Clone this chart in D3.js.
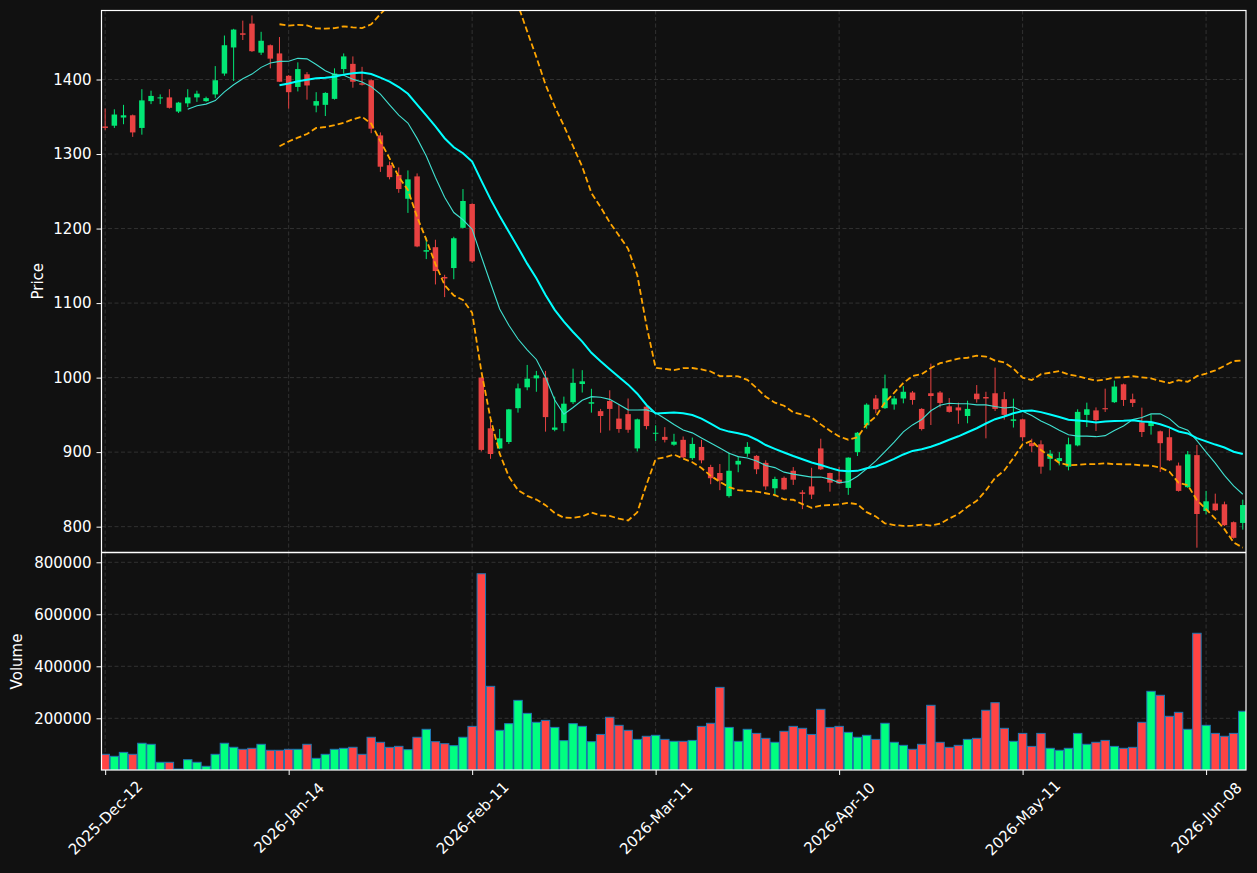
<!DOCTYPE html>
<html><head><meta charset="utf-8">
<script src="https://cdn.jsdelivr.net/npm/d3@7"></script>
<style>html,body{margin:0;padding:0;background:#111111;}svg{display:block;}</style>
</head><body><svg id="chart" width="1257" height="873"></svg>
<script>
const openP = [1337,1338,1349,1352,1335,1371,1375,1376,1357,1368,1376,1371,1380,1408,1443,1462,1475,1436,1446,1435,
1405,1390,1407,1365,1366,1374,1414,1421,1395,1399,1325,1285,1272,1240,1270,1169,1175,1135,1147,1201,
1233,1000,932,905,913.6,959,987,999,1000,930,939,967,991.4,965,955,968.6,945,951,905,961,
925,920.5,910,916.5,892,907,880,872,841,883.4,898,895,885.6,851.5,865.5,875,846,854,905,872,
863,852,900,936,972,959,964,972,980,958,979,980,961.5,960,948.5,978.5,974,979,971,942,
944,912,910.5,891,888,880.5,909,950,956,959,967,991,971,940,935,928,920,882,853,896,
821,831,830,806,805];
const highP = [1361,1360,1366,1353,1387,1385,1380,1387,1370,1387,1385,1377,1418,1459,1468,1479,1486,1464,1447,1457,
1406,1423,1410,1383,1383,1415,1435,1431,1417,1400,1329,1290,1282,1278,1274,1188,1185,1138,1189,1253,
1234,1001,942,931,958,992,1017,1009,1009,974.5,974.5,1012,1010,985,958,983,964,972,945,962,
936,933.5,924.6,921,919.5,916.5,883,884,899.5,894,913.4,896,889,867,867.3,880,849,879,918,872.5,
880,893,927,965.5,976.7,1004,975.3,988.7,982,959,1018.8,982,972.6,966.4,969,990,981,1013.4,980.7,971.8,
945,918,915.8,902.8,900,919.5,957.5,966.4,960,985.2,996,992,978.5,959.7,950.7,929,932,886,901.5,909.6,
848,844.3,833.6,807,836.2];
const lowP = [1332,1335,1340,1323,1326,1367,1367,1361,1355,1363,1370,1370,1375,1405,1398,1453,1437,1433,1415,1397,
1361,1384,1373,1356,1351,1373,1408,1389,1392,1328,1276,1266,1248,1221,1175,1159,1125,1108,1132,1200,
1154,901,891,904,911,953,983,981,927.5,928,928,964.6,980,953,926,929,926,926,901,930.6,
915,913,908.5,892,889.7,885,857,849,839,873,893.7,870.5,849.4,840.6,849,856,823.5,837,876,847,
857,842.7,894.8,931.5,952,958,957,965.5,963.7,929,936.4,960,953,938,938.7,966.4,918.5,955.2,943.6,933,
915,900,871,875.6,882.3,875.6,907.8,933.7,928.3,953.9,966,962,960.6,920.3,923.5,873.3,888,847,852,771.8,
816.5,821,801,784,796];
const closeP = [1335,1353,1352,1329,1372,1378,1376,1362,1369,1376,1381,1375,1399,1446,1467,1460,1438,1452,1428,1397,
1383,1414,1392,1371,1382,1408,1431,1397,1393,1334,1283,1269,1253,1266,1176,1171,1143,1133,1187,1237,
1156,903,897.5,918.5,957.4,985.6,998.6,1003,947,933,965,993,995,967,948.5,958,931,930,944,935,
926,916.5,914,893,911,889,865,862,875,888.3,907,877,854,864,850,863,844,843,877,859,
858,892.6,926,963.7,957.5,985.6,972,981,970,931,975.3,966,954,956,958,971,972,958,950,944,
920,908,880.5,898,892,910.5,954,957.5,943,957.5,988,970,966,927,940,912,889,848,897,817,
834,822,802,785,829];
const volume = [61500,53800,69000,61500,104000,100000,30800,30800,5000,40800,30800,15400,61500,104000,88500,80800,84600,100000,77000,77000,
80800,80800,100000,46000,61500,80800,84600,88500,61500,127000,107700,88300,92200,79400,127000,157700,110000,102400,94800,127000,
169000,756000,323000,153800,179400,269000,219000,184600,192000,165000,114000,179400,169000,110000,138000,204000,173000,153800,119000,130800,
134600,119000,111500,111500,115000,169000,180800,319000,165000,111500,157700,142000,123000,107700,150000,169000,161500,138000,234600,165000,
169000,146000,127000,134600,119000,180800,107700,96000,80800,100000,250000,107700,88300,96000,119000,123000,230800,260000,161500,111500,
142000,92000,142000,84600,77000,84600,142000,100000,107700,115000,92000,84600,88300,184600,303800,288500,207700,223000,157700,527000,
173000,142000,130800,142000,227000];
const tickIndex = [0,20,40,60,80,100,120];
const tickLabels = ["2025-Dec-12","2026-Jan-14","2026-Feb-11","2026-Mar-11","2026-Apr-10","2026-May-11","2026-Jun-08"];
const priceTicks = [800,900,1000,1100,1200,1300,1400];
const volumeTicks = [200000,400000,600000,800000];

const svg = d3.select('#chart');
const W = 1257, H = 873;
const L = 101.5, R = 1246, pTop = 10.5, pBot = 552, vTop = 553, vBot = 770;
const n = closeP.length;
const idx = d3.range(n);

const x = d3.scaleLinear().domain([-0.4, 124.35]).range([L, R]);
const yP = d3.scaleLinear().domain([766, 1492.6]).range([pBot, pTop]);
const yV = d3.scaleLinear().domain([0, 835800]).range([770.3, vTop]);
const step = x(1) - x(0);

const FONT = 'DejaVu Sans, sans-serif';
const FS = '15px';
const TXT = '#ffffff';
const GRID = '#3a3a3a';

svg.append('rect').attr('width', W).attr('height', H).attr('fill', '#111111');
const defs = svg.append('defs');
defs.append('clipPath').attr('id','clipP').append('rect').attr('x',L).attr('y',pTop).attr('width',R-L).attr('height',pBot-pTop);
defs.append('clipPath').attr('id','clipV').append('rect').attr('x',L).attr('y',vTop).attr('width',R-L).attr('height',vBot-vTop);

// grids
function grid(yScale, ticks, y0, y1) {
  const g = svg.append('g').attr('stroke', GRID).attr('stroke-width', 0.8).attr('stroke-dasharray', '4,2.5');
  g.selectAll('line.h').data(ticks).join('line').attr('x1', L).attr('x2', R)
    .attr('y1', d => yScale(d)).attr('y2', d => yScale(d));
  g.selectAll('line.v').data(tickIndex).join('line').attr('y1', y0).attr('y2', y1)
    .attr('x1', d => x(d)).attr('x2', d => x(d));
}
grid(yP, priceTicks, pTop, pBot);
grid(yV, volumeTicks, vTop, vBot);

// rolling stats
function rolling(arr, w, fn) {
  return arr.map((_, i) => i < w - 1 ? null : fn(arr.slice(i - w + 1, i + 1)));
}
const ma10 = rolling(closeP, 10, a => d3.mean(a));
const ma20 = rolling(closeP, 20, a => d3.mean(a));
const sd20 = rolling(closeP, 20, a => { const m = d3.mean(a); return Math.sqrt(d3.mean(a, v => (v - m) * (v - m))); });
const bbU = ma20.map((m, i) => m === null ? null : m + 2 * sd20[i]);
const bbL = ma20.map((m, i) => m === null ? null : m - 2 * sd20[i]);

const UP = '#02e775', DN = '#e84242';
const VUP = '#00ff80', VDN = '#ff4444';
const isUp = i => closeP[i] >= openP[i];

// candles
const gc = svg.append('g').attr('clip-path', 'url(#clipP)');
gc.selectAll('line.w').data(idx).join('line')
  .attr('x1', i => x(i)).attr('x2', i => x(i))
  .attr('y1', i => yP(highP[i])).attr('y2', i => yP(lowP[i]))
  .attr('stroke', i => isUp(i) ? UP : DN).attr('stroke-width', 1);
const bw = step * 0.6;
gc.selectAll('rect.b').data(idx).join('rect')
  .attr('x', i => x(i) - bw / 2).attr('width', bw)
  .attr('y', i => yP(Math.max(openP[i], closeP[i])))
  .attr('height', i => Math.max(1, Math.abs(yP(openP[i]) - yP(closeP[i]))))
  .attr('fill', i => isUp(i) ? UP : DN);

// lines
function line(data) {
  return d3.line().defined(i => data[i] !== null).x(i => x(i)).y(i => yP(data[i]))(idx);
}
gc.append('path').attr('d', line(ma10)).attr('fill', 'none').attr('stroke', '#40e0d0').attr('stroke-width', 1.1);
gc.append('path').attr('d', line(ma20)).attr('fill', 'none').attr('stroke', '#00ffff').attr('stroke-width', 2);
[bbU, bbL].forEach(b => gc.append('path').attr('d', line(b)).attr('fill', 'none')
  .attr('stroke', '#ffa500').attr('stroke-width', 1.8).attr('stroke-dasharray', '6,3'));

// volume
const gv = svg.append('g').attr('clip-path', 'url(#clipV)');
const vw = step * 0.92;
gv.selectAll('rect').data(idx).join('rect')
  .attr('x', i => x(i) - vw / 2).attr('width', vw)
  .attr('y', i => yV(volume[i])).attr('height', i => yV(0) - yV(volume[i]))
  .attr('fill', i => isUp(i) ? VUP : VDN)
  .attr('stroke', '#1f77b4').attr('stroke-width', 1);

// frames
svg.append('rect').attr('x', L).attr('y', pTop).attr('width', R - L).attr('height', vBot - pTop)
  .attr('fill', 'none').attr('stroke', '#ffffff').attr('stroke-width', 1.2);
svg.append('line').attr('x1', L).attr('x2', R).attr('y1', 552.5).attr('y2', 552.5)
  .attr('stroke', '#ffffff').attr('stroke-width', 1.3);

// axes
function styleAxis(g) {
  g.select('.domain').remove();
  g.selectAll('.tick line').attr('stroke', '#ffffff').attr('stroke-width', 1);
  g.selectAll('.tick text').attr('fill', TXT).attr('font-family', FONT).attr('font-size', FS);
}
svg.append('g').attr('transform', `translate(${L},0)`)
  .call(d3.axisLeft(yP).tickValues(priceTicks).tickSize(5).tickPadding(5).tickFormat(d3.format('d'))).call(styleAxis);
svg.append('g').attr('transform', `translate(${L},0)`)
  .call(d3.axisLeft(yV).tickValues(volumeTicks).tickSize(5).tickPadding(5).tickFormat(d3.format('d'))).call(styleAxis);
const xa = svg.append('g').attr('transform', `translate(0,${vBot})`)
  .call(d3.axisBottom(x).tickValues(tickIndex).tickSize(5).tickFormat((d, i) => tickLabels[i])).call(styleAxis);
xa.selectAll('.tick text').attr('y', null).attr('dy', null).attr('text-anchor', 'middle')
  .attr('dominant-baseline', 'central').attr('transform', 'translate(0,48) rotate(-45)');

// axis titles
svg.append('text').attr('transform', `translate(38,${(pTop + pBot) / 2}) rotate(-90)`).attr('text-anchor', 'middle')
  .attr('dominant-baseline', 'central').attr('fill', TXT).attr('font-family', FONT).attr('font-size', FS).text('Price');
svg.append('text').attr('transform', `translate(17,${(vTop + vBot) / 2}) rotate(-90)`).attr('text-anchor', 'middle')
  .attr('dominant-baseline', 'central').attr('fill', TXT).attr('font-family', FONT).attr('font-size', FS).text('Volume');
</script></body></html>
